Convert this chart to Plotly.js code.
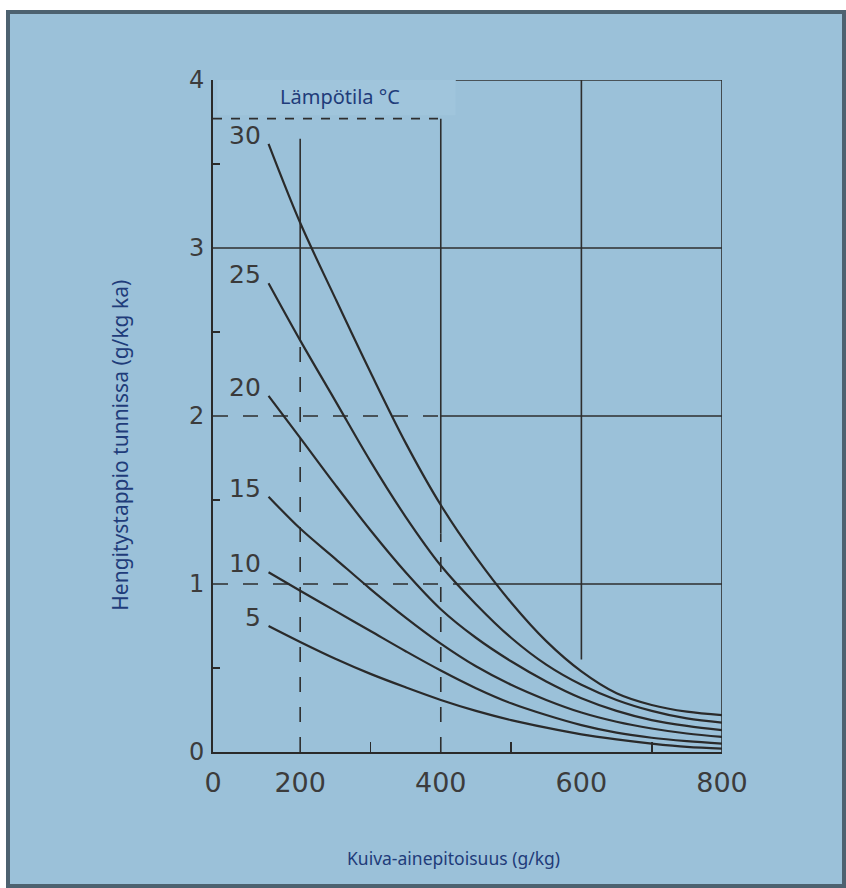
<!DOCTYPE html>
<html><head><meta charset="utf-8">
<script src="https://cdn.plot.ly/plotly-3.0.1.min.js"></script>
<style>
html,body{margin:0;padding:0;background:#fff;width:846px;height:888px;overflow:hidden}
#frame{position:absolute;left:6px;top:10px;width:832px;height:870px;border:4px solid #4d6270;background:#9bc1d9}
#chart{width:832px;height:870px}
</style></head><body>
<div id="frame"><div id="chart"></div></div>
<script>
// Kuiva-ainepitoisuus (g/kg)
const xValues = [155,200,250,300,350,400,450,500,550,600,650,700,750,800];
// Lämpötila °C
const temps = ['30','25','20','15','10','5'];
// Hengitystappio tunnissa (g/kg ka)
const loss30 = [3.62,3.15,2.70,2.26,1.84,1.47,1.16,0.89,0.66,0.48,0.35,0.28,0.24,0.22];
const loss25 = [2.79,2.45,2.09,1.73,1.40,1.11,0.88,0.68,0.52,0.40,0.31,0.245,0.20,0.175];
const loss20 = [2.12,1.87,1.59,1.32,1.07,0.85,0.68,0.54,0.42,0.32,0.245,0.19,0.155,0.13];
const loss15 = [1.52,1.33,1.15,0.97,0.80,0.645,0.51,0.40,0.31,0.235,0.18,0.14,0.11,0.09];
const loss10 = [1.07,0.96,0.84,0.72,0.60,0.485,0.38,0.29,0.22,0.16,0.115,0.085,0.065,0.05];
const loss5  = [0.75,0.655,0.555,0.465,0.385,0.31,0.245,0.19,0.145,0.105,0.075,0.05,0.03,0.02];
const xTickVals = [76,200,400,600,800];
const xTickText = ['0','200','400','600','800'];
const yTickVals = [0,1,2,3,4];
const yTickText = ['0','1','2','3','4'];

const series = [loss30, loss25, loss20, loss15, loss10, loss5];
const ink = '#2a2a2a';

const traces = series.map((ys, i) => ({
  x: xValues, y: ys, type: 'scatter', mode: 'lines', name: temps[i] + ' °C',
  line: {color: ink, width: 2.2, shape: 'spline', smoothing: 1},
  hoverinfo: 'skip', showlegend: false
}));

const curveLabels = series.map((ys, i) => ({
  x: xValues[0] - 8, y: ys[0] + 0.05, xref: 'x', yref: 'y', text: temps[i],
  showarrow: false, xanchor: 'right', yanchor: 'middle',
  font: {family: 'DejaVu Sans', size: 25, color: '#3a3a3a'}
}));

function seg(x0, y0, x1, y1, dash) {
  return {type: 'line', xref: 'x', yref: 'y', x0: x0, y0: y0, x1: x1, y1: y1,
          layer: 'below', line: {color: '#2e2e2e', width: 1.6, dash: dash || 'solid'}};
}

const shapes = [
  seg(200, 2.45, 200, 3.65), seg(200, 0, 200, 2.45, 'longdash'),
  seg(400, 1.3, 400, 3.77), seg(400, 0, 400, 1.3, 'longdash'),
  seg(600, 0.55, 600, 4), seg(800, 0, 800, 4),
  seg(421, 4, 800, 4),
  seg(76, 3, 800, 3),
  seg(76, 2, 400, 2, 'longdash'), seg(400, 2, 800, 2),
  seg(76, 1, 430, 1, 'longdash'), seg(430, 1, 800, 1),
  seg(76, 3.77, 400, 3.77, 'dash'),
  {type: 'rect', xref: 'x', yref: 'y', x0: 82, x1: 421, y0: 3.79, y1: 4.03,
   layer: 'below', fillcolor: '#a0c5dc', line: {width: 0}}
];

const layout = {
  width: 832, height: 870,
  margin: {l: 203, r: 120, t: 66, b: 132},
  paper_bgcolor: '#9bc1d9', plot_bgcolor: '#9bc1d9',
  showlegend: false,
  xaxis: {
    range: [76, 800], tickmode: 'array', tickvals: xTickVals, ticktext: xTickText,
    showgrid: false, zeroline: false, showline: true, linecolor: ink, linewidth: 2,
    ticks: '', ticklabelstandoff: 6,
    tickfont: {family: 'DejaVu Sans', size: 27, color: '#3c3c3c'},
    minor: {tickmode: 'array', tickvals: [300, 500, 700], ticks: 'inside', ticklen: 10,
            tickcolor: ink, tickwidth: 1.6, showgrid: false}
  },
  yaxis: {
    range: [0, 4], tickmode: 'array', tickvals: yTickVals, ticktext: yTickText,
    showgrid: false, zeroline: false, showline: true, linecolor: ink, linewidth: 2,
    ticks: '', ticklabelstandoff: 2,
    tickfont: {family: 'DejaVu Sans', size: 24, color: '#3c3c3c'},
    minor: {tickmode: 'array', tickvals: [0.5, 1.5, 2.5, 3.5], ticks: 'inside', ticklen: 7,
            tickcolor: ink, tickwidth: 1.6, showgrid: false}
  },
  shapes: shapes,
  annotations: curveLabels.concat([
    {text: 'Lämpötila °C', xref: 'paper', yref: 'paper', x: 0.25, y: 0.976,
     showarrow: false, xanchor: 'center', yanchor: 'middle',
     font: {family: 'Noto Sans', size: 20, color: '#1f3c7a'}},
    {text: 'Kuiva-ainepitoisuus (g/kg)', xref: 'paper', yref: 'paper', x: 0.472, y: -0.158,
     showarrow: false, xanchor: 'center', yanchor: 'middle',
     font: {family: 'Noto Sans', size: 17.5, color: '#1f3c7a'}},
    {text: 'Hengitystappio tunnissa (g/kg ka)', xref: 'paper', yref: 'paper', x: -0.183, y: 0.457,
     showarrow: false, xanchor: 'center', yanchor: 'middle', textangle: -90,
     font: {family: 'Noto Sans', size: 21, color: '#1f3c7a'}}
  ])
};

Plotly.newPlot('chart', traces, layout, {staticPlot: true, displayModeBar: false});
</script>
</body></html>
